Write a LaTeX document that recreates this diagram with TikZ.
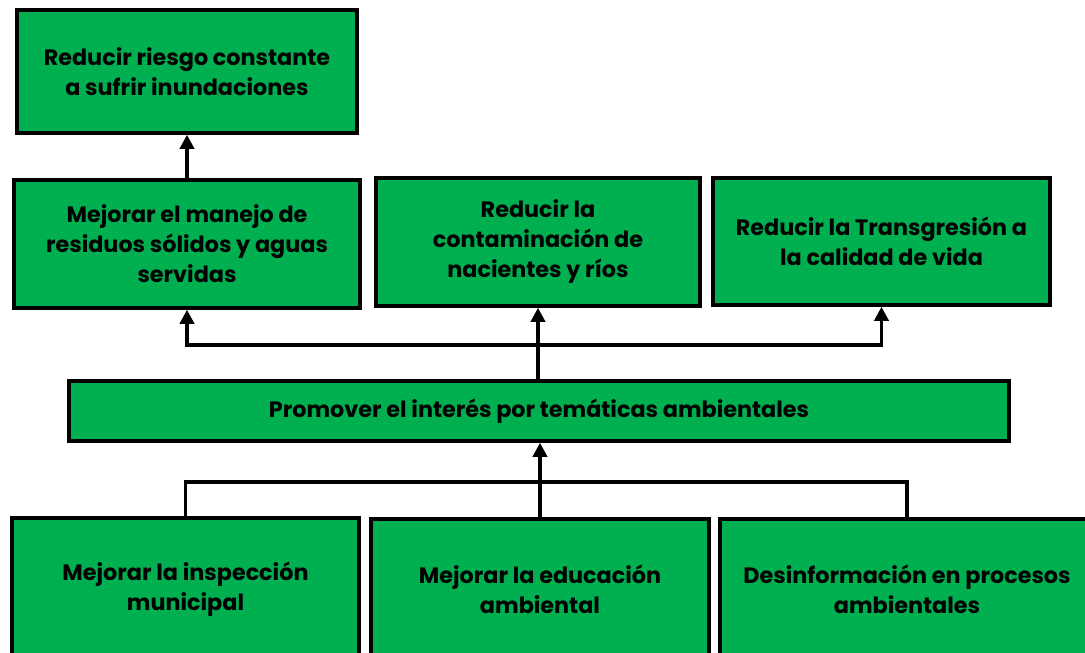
\documentclass[tikz,border=0pt]{standalone}
\usepackage{fontspec}
\setmainfont{Poppins}
\usetikzlibrary{positioning,arrows.meta}
\definecolor{objGreen}{RGB}{0,176,80}

\tikzset{
  objBox/.style={draw, line width=3.5pt, fill=objGreen, align=center,
    inner sep=0pt, font=\fontsize{22.3}{30}\selectfont\bfseries},
  objLine/.style={line width=3.5pt},
  objArrow/.style={line width=3.5pt, -{Triangle[width=14pt,length=14pt]}}
}

\begin{document}
\begin{tikzpicture}[x=1pt,y=-1pt]
  \useasboundingbox (0,0) rectangle (1085,653);

  % Top objective
  \node[objBox, minimum width=340pt, minimum height=123pt] (fin) at (187,71.5)
    {Reducir riesgo constante\\a sufrir inundaciones};

  % Second row
  \node[objBox, minimum width=346pt, minimum height=128pt] (res) at (187,244)
    {Mejorar el manejo de\\residuos sólidos y aguas\\servidas};
  \node[objBox, minimum width=324pt, minimum height=128pt] (con) at (538,242)
    {Reducir la\\contaminación de\\nacientes y ríos};
  \node[objBox, minimum width=337pt, minimum height=127pt] (cal) at (881.5,241.5)
    {Reducir la Transgresión a\\la calidad de vida};

  % Central objective
  \node[objBox, minimum width=940pt, minimum height=60pt] (prop) at (539,411)
    {Promover el interés por temáticas ambientales};

  % Bottom row (means)
  \node[objBox, minimum width=347pt, minimum height=142pt] (insp) at (185.5,589)
    {Mejorar la inspección\\municipal};
  \node[objBox, minimum width=338pt, minimum height=141pt] (edu) at (540,589.5)
    {Mejorar la educación\\ambiental};
  \node[objBox, minimum width=374pt, minimum height=141pt] (desi) at (907,589.5)
    {Desinformación en procesos\\ambientales};

  % Upward connectors
  \draw[objArrow] (res.north) -- (fin.south);
  \coordinate (up) at (540,345);
  \draw[objArrow] (prop.north -| con.south) -- (con.south);
  \draw[objArrow] (up) -| (res.south);
  \draw[objArrow] (up) -| (cal.south);

  \coordinate (low) at (540,482);
  \draw[objArrow] (edu.north) -- (prop.south -| edu.north);
  \draw[objLine] (insp.north) |- (low);
  \draw[objLine] (desi.north) |- (low);
\end{tikzpicture}
\end{document}
